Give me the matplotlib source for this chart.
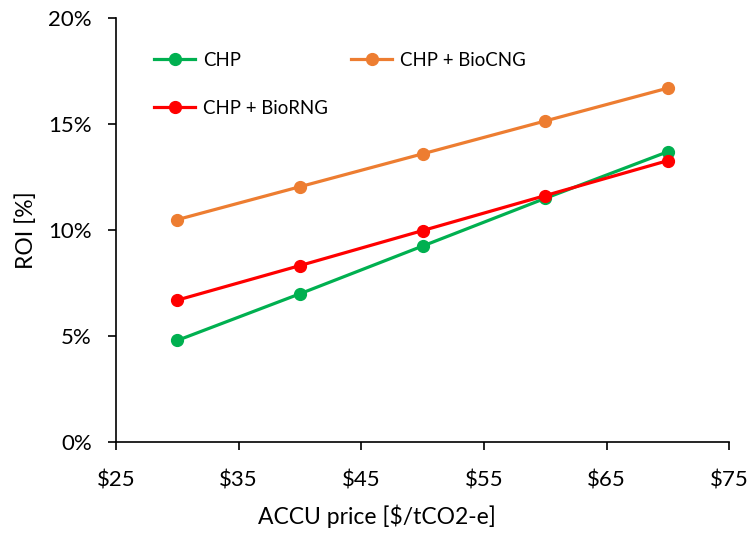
import matplotlib.pyplot as plt
from matplotlib.ticker import FuncFormatter

plt.rcParams['font.family'] = ['Lato', 'DejaVu Sans']

# ACCU price [$/tCO2-e] and ROI [%] per scenario
price = [30, 40, 50, 60, 70]
roi_chp = [4.8, 7.0, 9.25, 11.5, 13.7]
roi_biocng = [10.5, 12.05, 13.6, 15.15, 16.7]
roi_biorng = [6.7, 8.33, 9.98, 11.63, 13.28]

fig = plt.figure(figsize=(7.54, 5.34), dpi=100)
ax = fig.add_axes([0.154, 0.172, 0.813, 0.794])

l1, = ax.plot(price, roi_chp, color='#00B050', lw=2.3, marker='o', ms=8.5, label='CHP')
l2, = ax.plot(price, roi_biocng, color='#ED7D31', lw=2.3, marker='o', ms=8.5, label='CHP + BioCNG')
l3, = ax.plot(price, roi_biorng, color='#FF0000', lw=2.3, marker='o', ms=8.5, label='CHP + BioRNG')

ax.set_xlim(25, 75)
ax.set_ylim(0, 20)
ax.set_xticks(range(25, 76, 10))
ax.set_yticks(range(0, 21, 5))
ax.xaxis.set_major_formatter(FuncFormatter(lambda v, p: '${:.0f}'.format(v)))
ax.yaxis.set_major_formatter(FuncFormatter(lambda v, p: '{:.0f}%'.format(v)))
ax.tick_params(direction='out', length=5.5, width=1.2, labelsize=16, colors='black')
ax.tick_params(axis='x', pad=15)
ax.tick_params(axis='y', pad=12)
for s in ['top', 'right']:
    ax.spines[s].set_visible(False)
for s in ['left', 'bottom']:
    ax.spines[s].set_linewidth(1.2)

ax.set_xlabel('ACCU price [$/tCO2-e]', fontsize=16.5)
ax.xaxis.set_label_coords(0.426, -0.148)
ax.set_ylabel('ROI [%]', fontsize=16.5, labelpad=8)

# legend order gives row 1: CHP, CHP + BioCNG / row 2: CHP + BioRNG
ax.legend(handles=[l1, l3, l2], ncol=2, frameon=False, fontsize=13.4,
          loc='upper left', bbox_to_anchor=(0.035, 0.96),
          handlelength=2.2, handletextpad=0.43, columnspacing=1.24, labelspacing=1.67)

fig.savefig('out.png', dpi=100)
